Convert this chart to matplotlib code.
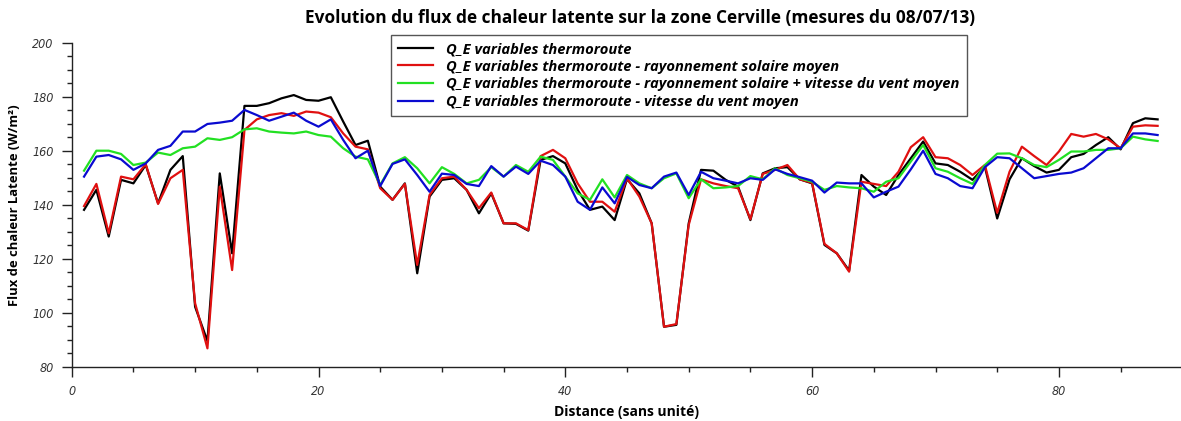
import numpy as np
import matplotlib
matplotlib.use("Agg")
import matplotlib.pyplot as plt
from matplotlib.ticker import MultipleLocator

# distance index (sans unite)
distance = np.arange(1, 89)

qe_thermo = [138.1, 145.5, 128.2, 149.2, 147.9, 154.7, 140.5, 152.9, 158.0, 102.2,
             89.5, 151.6, 122.0, 176.6, 176.6, 177.6, 179.4, 180.6, 178.8, 178.5,
             179.8, 170.8, 162.1, 163.7, 146.7, 141.8, 147.9, 114.6, 143.0, 149.2,
             149.8, 145.5, 136.8, 144.2, 133.1, 132.9, 130.4, 156.6, 158.0, 155.3,
             145.5, 138.1, 139.3, 134.3, 149.5, 144.2, 133.1, 94.8, 95.5, 133.1,
             152.9, 152.6, 149.2, 146.7, 134.3, 151.6, 153.5, 153.9, 149.4, 147.9,
             125.1, 122.0, 115.6, 151.0, 146.7, 143.6, 151.0, 157.2, 163.4, 155.3,
             154.7, 152.2, 149.2, 154.1, 134.9, 149.4, 157.2, 154.3, 151.9, 152.9,
             157.6, 158.8, 162.1, 165.0, 160.5, 170.2, 172.0, 171.6]

qe_solaire = [139.5, 147.7, 129.4, 150.4, 149.4, 155.0, 140.3, 149.8, 152.9, 103.5,
              86.8, 146.7, 115.8, 167.7, 171.6, 173.2, 173.9, 172.9, 174.5, 174.1,
              172.4, 166.4, 161.5, 160.5, 146.1, 141.8, 147.7, 117.7, 143.6, 149.8,
              150.4, 145.5, 138.7, 144.5, 133.1, 133.1, 130.6, 158.0, 160.3, 157.2,
              147.9, 141.1, 141.1, 137.4, 149.8, 143.0, 133.1, 94.8, 95.8, 132.5,
              149.4, 147.9, 146.9, 146.1, 134.6, 151.4, 152.9, 154.7, 149.4, 148.1,
              125.5, 122.0, 115.2, 148.5, 147.7, 146.9, 152.2, 161.3, 165.0, 157.6,
              157.2, 154.7, 151.0, 154.7, 137.0, 152.2, 161.5, 158.0, 154.7, 159.7,
              166.2, 165.2, 166.2, 164.2, 160.9, 168.9, 169.4, 169.2]

qe_solaire_vent = [152.6, 160.0, 160.0, 158.8, 154.7, 155.6, 159.3, 158.4, 160.9, 161.5,
                   164.6, 164.0, 165.0, 167.9, 168.3, 167.1, 166.7, 166.4, 167.1, 165.8,
                   165.2, 160.9, 157.8, 156.8, 147.3, 155.3, 157.6, 153.5, 147.9, 153.9,
                   151.4, 147.9, 149.2, 153.9, 150.4, 154.7, 152.2, 157.8, 156.6, 150.4,
                   144.2, 141.8, 149.4, 142.7, 151.0, 147.9, 146.1, 149.8, 151.6, 142.4,
                   149.4, 146.1, 146.4, 146.9, 150.6, 149.4, 153.5, 151.0, 149.8, 148.5,
                   145.5, 146.9, 146.4, 146.1, 144.8, 148.5, 149.8, 156.0, 162.1, 153.5,
                   152.2, 149.8, 147.7, 154.7, 158.9, 159.0, 157.2, 154.7, 153.9, 156.6,
                   159.7, 159.7, 160.3, 160.3, 160.9, 165.2, 164.2, 163.6]

qe_vent = [150.4, 157.8, 158.4, 156.8, 152.9, 155.3, 160.3, 161.8, 167.1, 167.1,
           169.9, 170.4, 171.1, 175.1, 173.2, 171.1, 172.6, 174.1, 171.1, 168.9,
           171.6, 164.0, 157.2, 160.0, 146.9, 155.1, 156.8, 151.0, 144.8, 151.5,
           151.0, 147.7, 146.9, 154.3, 150.4, 154.1, 151.4, 156.3, 154.7, 150.4,
           141.1, 138.1, 146.4, 140.5, 150.3, 147.3, 146.1, 150.4, 151.9, 143.6,
           152.2, 149.8, 148.9, 147.9, 149.8, 149.2, 153.1, 151.4, 150.2, 148.9,
           144.5, 148.2, 147.9, 147.9, 142.7, 144.8, 146.7, 153.1, 160.0, 151.4,
           149.8, 146.9, 146.1, 153.9, 157.6, 157.2, 153.5, 149.8, 150.6, 151.4,
           151.9, 153.5, 157.2, 160.9, 160.9, 166.4, 166.4, 165.8]

labels = ["Q_E variables thermoroute",
          "Q_E variables thermoroute - rayonnement solaire moyen",
          "Q_E variables thermoroute - rayonnement solaire + vitesse du vent moyen",
          "Q_E variables thermoroute - vitesse du vent moyen"]
colors = ["#000000", "#e01010", "#22e022", "#0a0ad0"]

W, H = 1181, 421
fig = plt.figure(figsize=(W / 100, H / 100), dpi=100)
ax = fig.add_axes([71.7 / W, (H - 366.7) / H, 1110.6 / W, 324.0 / H])

for ys, c, lab in zip([qe_thermo, qe_solaire, qe_solaire_vent, qe_vent], colors, labels):
    ax.plot(distance, ys, color=c, lw=1.6, label=lab)

ax.set_xlim(0, 90)
ax.set_ylim(80, 200)
ax.xaxis.set_major_locator(MultipleLocator(20))
ax.xaxis.set_minor_locator(MultipleLocator(5))
ax.yaxis.set_major_locator(MultipleLocator(20))
ax.yaxis.set_minor_locator(MultipleLocator(5))

for s in ["top", "right"]:
    ax.spines[s].set_visible(False)
for s in ["left", "bottom"]:
    ax.spines[s].set_color("#222222")
    ax.spines[s].set_linewidth(1.0)

ax.tick_params(which="major", direction="out", length=7, width=1, color="#222222", pad=6)
ax.tick_params(which="minor", direction="out", length=3.5, width=1, color="#222222")
for t in ax.get_xticklabels() + ax.get_yticklabels():
    t.set_fontfamily("DejaVu Sans")
    t.set_fontstretch("condensed")
    t.set_fontstyle("italic")
    t.set_fontsize(9)
    t.set_color("#333333")

ax.set_xlabel("Distance (sans unité)", fontfamily="Open Sans", fontweight="bold", fontsize=10, labelpad=5)
ax.set_ylabel("Flux de chaleur Latente (W/m²)", fontfamily="Open Sans", fontweight="bold", fontsize=9.4, labelpad=8)
fig.text(640 / W, 1 - 18 / H, "Evolution du flux de chaleur latente sur la zone Cerville (mesures du 08/07/13)",
         ha="center", va="center", fontfamily="Open Sans", fontweight="bold", fontsize=12.4)

leg = ax.legend(loc="upper left", bbox_to_anchor=(391 / W, 1 - 34.7 / H), bbox_transform=fig.transFigure,
                borderaxespad=0, fancybox=False, framealpha=1, edgecolor="#555555", borderpad=0.5,
                labelspacing=0.24, handlelength=2.35, handletextpad=0.9,
                prop={"family": "Open Sans", "weight": "bold", "style": "italic", "size": 10.6})
leg.get_frame().set_linewidth(1.0)

fig.savefig("out.png", dpi=100)
